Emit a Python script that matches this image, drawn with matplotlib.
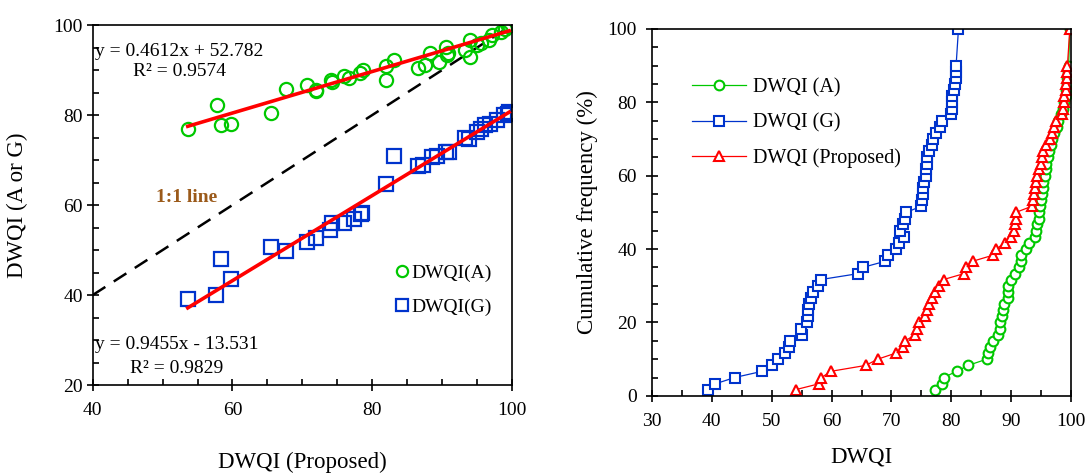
import matplotlib
matplotlib.use('Agg')
import matplotlib.pyplot as plt
from matplotlib.ticker import MultipleLocator
import numpy as np

plt.rcParams['font.family'] = ['Liberation Serif', 'DejaVu Serif']

# ---- left panel: DWQI(A) / DWQI(G) vs DWQI(Proposed) ----
prop_a = [53.6, 57.8, 58.3, 59.8, 65.5, 67.7, 70.6, 71.9, 72.0, 74.1, 74.3, 76.0,
          76.7, 78.2, 78.7, 81.9, 82.0, 83.1, 86.6, 87.6, 88.3, 89.6, 90.5, 90.7,
          90.9, 93.3, 94.0, 94.0, 95.0, 95.5, 96.7, 97.2, 98.5, 99.0, 99.4, 99.6]
dwqi_a = [76.8, 82.2, 77.8, 78.1, 80.4, 85.7, 86.7, 85.6, 85.3, 87.8, 87.3, 88.7,
          88.2, 89.3, 90.0, 91.0, 87.9, 92.2, 90.4, 91.1, 93.7, 91.9, 95.2, 93.4,
          93.8, 94.4, 96.7, 93.0, 95.6, 96.1, 96.7, 97.8, 98.5, 99.2, 99.9, 100.0]

prop_g = [53.6, 57.7, 58.3, 59.8, 65.5, 67.7, 70.6, 71.9, 73.9, 74.2, 76.0, 77.4,
          78.4, 78.6, 82.0, 83.1, 86.6, 87.3, 88.5, 89.2, 90.5, 91.0, 93.3, 93.8,
          95.0, 95.5, 96.2, 96.9, 97.9, 98.9, 99.4, 99.6]
dwqi_g = [39.1, 40.0, 47.9, 43.5, 50.7, 49.8, 51.7, 52.6, 54.4, 55.9, 55.9, 57.0,
          58.1, 58.3, 64.6, 70.9, 68.7, 69.0, 70.7, 71.0, 71.8, 71.8, 74.8, 74.6,
          76.3, 77.0, 77.7, 78.0, 78.9, 80.0, 80.3, 80.6]

fit_a = (0.4612, 52.782)   # slope, intercept
fit_g = (0.9455, -13.531)

# ---- right panel: cumulative frequency curves ----
cdf_a_x = [77.2, 78.4, 78.7, 80.9, 82.8, 85.9, 86.1, 86.5, 87.0, 87.8, 88.1, 88.2,
           88.4, 88.6, 88.8, 89.4, 89.4, 89.4, 90.0, 90.7, 91.3, 91.7, 91.7, 92.4,
           93.0, 94.0, 94.1, 94.4, 94.6, 94.7, 94.8, 95.0, 95.1, 95.3, 95.4, 95.6,
           95.8, 95.9, 96.1, 96.3, 96.6, 96.9, 97.2, 97.6, 97.9, 98.3, 98.6, 98.9,
           99.1, 99.2, 99.3, 99.4, 99.5, 99.6, 99.8]
cdf_a_f = [1.7, 3.3, 5.0, 6.7, 8.3, 10.0, 11.7, 13.3, 15.0, 16.7, 18.3, 20.0,
           21.7, 23.3, 25.0, 26.7, 28.3, 30.0, 31.7, 33.3, 35.0, 36.7, 38.3, 40.0,
           41.7, 43.3, 45.0, 46.7, 48.3, 50.0, 51.7, 53.3, 55.0, 56.7, 58.3, 60.0,
           61.7, 63.3, 65.0, 66.7, 68.3, 70.0, 71.7, 73.3, 75.0, 76.7, 78.3, 80.0,
           81.7, 83.3, 85.0, 86.7, 88.3, 90.0, 100.0]

cdf_g_x = [39.4, 40.6, 43.8, 48.4, 50.1, 51.0, 52.2, 52.9, 53.0, 55.0, 54.9, 55.9,
           56.0, 56.1, 56.2, 56.6, 56.9, 57.8, 58.2, 64.4, 65.2, 69.0, 69.5, 70.8,
           71.2, 72.1, 71.5, 72.0, 72.2, 72.5, 75.0, 75.1, 75.2, 75.3, 75.5, 75.7,
           75.8, 75.9, 76.0, 76.2, 76.7, 77.0, 77.5, 78.1, 78.5, 80.0, 80.1, 80.2,
           80.2, 80.5, 80.6, 80.8, 80.8, 80.8, 81.2]
cdf_g_f = [1.7, 3.3, 5.0, 6.7, 8.3, 10.0, 11.7, 13.3, 15.0, 16.7, 18.3, 20.0,
           21.7, 23.3, 25.0, 26.7, 28.3, 30.0, 31.7, 33.3, 35.0, 36.7, 38.3, 40.0,
           41.7, 43.3, 45.0, 46.7, 48.3, 50.0, 51.7, 53.3, 55.0, 56.7, 58.3, 60.0,
           61.7, 63.3, 65.0, 66.7, 68.3, 70.0, 71.7, 73.3, 75.0, 76.7, 78.3, 80.0,
           81.7, 83.3, 85.0, 86.7, 88.3, 90.0, 100.0]

cdf_p_x = [54.0, 57.9, 58.3, 59.9, 65.7, 67.7, 70.8, 72.0, 72.3, 74.0, 74.3, 74.6,
           75.6, 76.0, 76.2, 76.7, 77.2, 77.9, 78.7, 82.1, 82.4, 83.6, 86.9, 87.5,
           88.9, 90.0, 90.5, 90.7, 90.8, 90.8, 93.5, 93.6, 93.8, 94.0, 94.1, 94.3,
           94.7, 95.0, 95.2, 95.4, 95.9, 96.5, 96.9, 97.2, 97.5, 98.5, 98.7, 98.8,
           98.9, 99.1, 99.2, 99.3, 99.4, 99.4, 99.8]
cdf_p_f = cdf_a_f

green = '#00C800'
blue = '#0033CC'
red = '#FF0000'

fig = plt.figure(figsize=(10.87, 4.73), dpi=100)
ax1 = fig.add_axes([0.0853, 0.186, 0.3857, 0.761])
ax2 = fig.add_axes([0.5998, 0.163, 0.3855, 0.776])

# left panel
ax1.plot([40, 100], [40, 100], color='black', lw=1.8, dashes=(6, 4), zorder=1)
ax1.plot(prop_a, dwqi_a, 'o', ms=9.5, mfc='none', mec=green, mew=1.6,
         label='DWQI(A)', zorder=2)
ax1.plot(prop_g, dwqi_g, 's', ms=9.5, mfc='none', mec=blue, mew=1.6,
         label='DWQI(G)', zorder=2)
xa = np.array([min(prop_a), max(prop_a)])
ax1.plot(xa, fit_a[0] * xa + fit_a[1], color=red, lw=2.6, zorder=3)
xg = np.array([min(prop_g), max(prop_g)])
ax1.plot(xg, fit_g[0] * xg + fit_g[1], color=red, lw=2.6, zorder=3)

ax1.text(40.3, 94.1, 'y = 0.4612x + 52.782', fontsize=14, va='center')
ax1.text(45.8, 89.6, 'R² = 0.9574', fontsize=14, va='center')
ax1.text(40.3, 28.9, 'y = 0.9455x - 13.531', fontsize=14, va='center')
ax1.text(45.3, 23.7, 'R² = 0.9829', fontsize=14, va='center')
ax1.text(53.5, 61.7, '1:1 line', fontsize=14, fontweight='bold',
         color='#9B5A1A', ha='center', va='center')

ax1.set_xlim(40, 100)
ax1.set_ylim(20, 100)
ax1.xaxis.set_major_locator(MultipleLocator(20))
ax1.xaxis.set_minor_locator(MultipleLocator(5))
ax1.yaxis.set_major_locator(MultipleLocator(20))
ax1.yaxis.set_minor_locator(MultipleLocator(5))
ax1.tick_params(axis='x', which='major', pad=8)
ax1.tick_params(axis='y', which='major', pad=3)
ax1.set_xlabel('DWQI (Proposed)', fontsize=16.5)
ax1.set_ylabel('DWQI (A or G)', fontsize=16.5)
ax1.xaxis.set_label_coords(0.5, -0.186)
ax1.yaxis.set_label_coords(-0.154, 0.5)
ax1.legend(loc='upper left', bbox_to_anchor=(0.718, 0.335), frameon=False,
           fontsize=14, handlelength=0.8, handletextpad=0.1, labelspacing=0.85,
           borderpad=0, borderaxespad=0, markerscale=0.85)

# right panel
ax2.plot(cdf_a_x, cdf_a_f, '-o', color=green, lw=0.9, ms=7, mfc='white',
         mec=green, mew=1.5, label='DWQI (A)')
ax2.plot(cdf_g_x, cdf_g_f, '-s', color=blue, lw=0.9, ms=7, mfc='white',
         mec=blue, mew=1.5, label='DWQI (G)')
ax2.plot(cdf_p_x, cdf_p_f, '-^', color=red, lw=0.9, ms=7.5, mfc='white',
         mec=red, mew=1.5, label='DWQI (Proposed)')

ax2.set_xlim(30, 100)
ax2.set_ylim(0, 100)
ax2.xaxis.set_major_locator(MultipleLocator(10))
ax2.xaxis.set_minor_locator(MultipleLocator(5))
ax2.yaxis.set_major_locator(MultipleLocator(20))
ax2.yaxis.set_minor_locator(MultipleLocator(5))
ax2.tick_params(axis='x', which='major', pad=8)
ax2.tick_params(axis='y', which='major', pad=7)
ax2.set_xlabel('DWQI', fontsize=16.5)
ax2.set_ylabel('Cumulative frequency (%)', fontsize=16.5)
ax2.xaxis.set_label_coords(0.5, -0.139)
ax2.yaxis.set_label_coords(-0.129, 0.5)
ax2.legend(loc='upper left', bbox_to_anchor=(0.095, 0.866), frameon=False,
           fontsize=14.5, handlelength=2.7, handletextpad=0.35, labelspacing=0.8,
           borderpad=0, borderaxespad=0)

for ax in (ax1, ax2):
    ax.tick_params(which='major', direction='inout', length=8, width=1.2,
                   labelsize=14)
    ax.tick_params(which='minor', direction='in', length=4, width=1.2)
    for sp in ax.spines.values():
        sp.set_linewidth(1.2)

fig.savefig('out.png', dpi=100)
